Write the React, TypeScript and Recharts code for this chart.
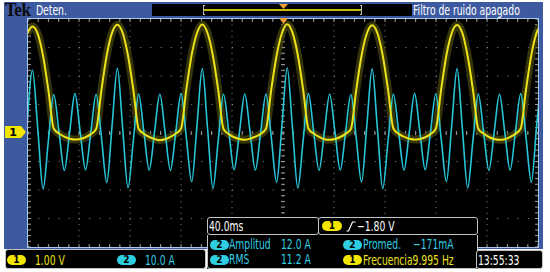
import React from 'react';
import { LineChart, Line, XAxis, YAxis, CartesianGrid } from 'recharts';

// ---- acquisition (sample grid of the record) ----
const SAMPLE_START_MS = -0.66;
const SAMPLE_STEP_MS = 4.1625;

// Channel 1 (V)
const ch1Volts = [
  3.45,
  3.70, 3.44, 2.66, 1.46, 0.12, -0.06, -0.17, -0.24, -0.27, -0.25, -0.19, -0.08, 0.10, 1.47, 2.69, 3.48,
  3.76, 3.47, 2.68, 1.49, 0.11, -0.07, -0.18, -0.25, -0.29, -0.26, -0.18, -0.06, 0.12, 1.50, 2.70, 3.47,
  3.77, 3.46, 2.67, 1.47, 0.10, -0.08, -0.19, -0.25, -0.28, -0.24, -0.17, -0.07, 0.11, 1.49, 2.68, 3.46,
  3.78, 3.48, 2.69, 1.48, 0.11, -0.06, -0.18, -0.26, -0.28, -0.25, -0.18, -0.07, 0.10, 1.46, 2.67, 3.45,
  3.74, 3.46, 2.68, 1.48, 0.12, -0.07, -0.17, -0.24, -0.27, -0.25, -0.19, -0.08, 0.11, 1.48, 2.69, 3.47,
  3.75, 3.47, 2.66, 1.47, 0.11, -0.06, -0.18, -0.25, -0.28, -0.26, -0.18, -0.07, 0.12, 1.49, 2.70, 3.48,
  3.76,
];

// Channel 2 (A)
const ch2Amps = [
  2.6,
  22.0, 1.5, -19.6, -2.7, 13.5, 0.4, -13.1, 0.2, 13.8, 0.3, -12.9, 0.3, 13.6, -1.6, -17.4, 2.6,
  22.7, 1.6, -19.2, -2.8, 13.7, 0.3, -13.0, 0.4, 13.6, 0.2, -13.1, 0.3, 13.8, -1.7, -17.1, 2.7,
  22.6, 1.4, -19.4, -2.6, 13.6, 0.3, -12.9, 0.3, 13.7, 0.4, -13.0, 0.2, 13.7, -1.5, -17.3, 2.5,
  22.8, 1.6, -19.3, -2.7, 13.8, 0.2, -13.1, 0.3, 13.6, 0.3, -13.0, 0.4, 13.5, -1.6, -17.2, 2.6,
  22.5, 1.5, -19.5, -2.8, 13.6, 0.3, -13.0, 0.2, 13.8, 0.3, -12.9, 0.3, 13.7, -1.8, -17.0, 2.7,
  22.6, 1.6, -19.2, -2.6, 13.7, 0.4, -13.1, 0.3, 13.6, 0.2, -13.0, 0.3, 13.8, -1.6, -17.3, 2.6,
  22.4,
];

// graticule
const timeTicksMajor = [0, 40, 80, 120, 160, 200, 240, 280, 320, 360, 400];
const divTicksMajor = [-4, -3, -2, -1, 0, 1, 2, 3, 4];
const timeTicksMinor = Array.from({ length: 51 }, (_, i) => i * 8);
const divTicksMinor = Array.from({ length: 41 }, (_, i) => Math.round((-4 + i * 0.2) * 10) / 10);

const data = ch1Volts.map((v, i) => ({
  t: SAMPLE_START_MS + i * SAMPLE_STEP_MS,
  ch1: v,
  ch2: ch2Amps[i],
}));

const NARROW = "'Liberation Sans Narrow', 'DejaVu Sans Condensed', 'Roboto', sans-serif";
const BLUE = '#3d5aa0';
const YEL = '#ece31a';
const CYAN = '#27c6d8';
const YEL_TXT = '#f0e21c';
const CYAN_TXT = '#30cde0';

const Abs = ({ x, y, w, h, style, children }: any) => (
  <div style={{ position: 'absolute', left: x, top: y, width: w, height: h, boxSizing: 'border-box', ...style }}>
    {children}
  </div>
);

const T = ({ x, cy, color, size = 13.5, sx = 0.76, children, style }: any) => (
  <div
    style={{
      position: 'absolute', left: x, top: cy - 8, height: 16, lineHeight: '16px', fontSize: size,
      color, fontFamily: NARROW, whiteSpace: 'nowrap', transform: `scaleX(${sx})`, transformOrigin: 'left center',
      ...style,
    }}
  >
    {children}
  </div>
);

const Pill = ({ x, cy, w = 19, h = 10, bg, label }: any) => (
  <div
    style={{
      position: 'absolute', left: x, top: cy - h / 2, width: w, height: h, borderRadius: h / 2,
      background: bg, color: '#000', fontSize: 10, lineHeight: h + 'px', textAlign: 'center',
      fontFamily: NARROW, fontWeight: 'bold',
    }}
  >
    {label}
  </div>
);

const boxBorder = '1px solid #c4c4c4';

export default function App() {
  return (
    <div style={{ position: 'absolute', left: 0, top: 0, width: 550, height: 272, background: '#fff', overflow: 'hidden' }}>
      {/* blue frame */}
      <Abs x={4} y={2} w={539} h={247} style={{ background: BLUE }} />
      {/* plot background */}
      <Abs x={28} y={19} w={510} h={228} style={{ background: '#000' }} />

      <LineChart
        width={550}
        height={272}
        data={data}
        margin={{ top: 19, left: 28, right: 12, bottom: 25 }}
        style={{ position: 'absolute', left: 0, top: 0 }}
      >
        <XAxis xAxisId="t" dataKey="t" type="number" domain={[0, 400]} ticks={timeTicksMajor} interval={0} allowDataOverflow hide />
        <XAxis xAxisId="tm" dataKey="t" type="number" domain={[0, 400]} ticks={timeTicksMinor} interval={0} allowDataOverflow hide />
        <YAxis yAxisId="div" type="number" domain={[-4, 4]} ticks={divTicksMajor} interval={0} allowDataOverflow hide />
        <YAxis yAxisId="divm" type="number" domain={[-4, 4]} ticks={divTicksMinor} interval={0} allowDataOverflow hide />
        <YAxis yAxisId="v" type="number" domain={[-4.04, 3.96]} allowDataOverflow hide />
        <YAxis yAxisId="a" type="number" domain={[-40, 40]} allowDataOverflow hide />

        <CartesianGrid xAxisId="t" yAxisId="div" horizontal vertical={false} stroke="#8c8c8c" strokeDasharray="1 9.2" />
        <CartesianGrid xAxisId="t" yAxisId="div" horizontal={false} vertical stroke="#8c8c8c" strokeDasharray="1 4.7" />
        <CartesianGrid xAxisId="tm" yAxisId="divm" horizontal={false} vertical stroke="#9c9c9c" strokeDasharray="3 109 4 109 3" />
        <CartesianGrid xAxisId="tm" yAxisId="divm" horizontal vertical={false} stroke="#9c9c9c" strokeDasharray="3 250 4 250 3" />

        <Line xAxisId="t" yAxisId="v" dataKey="ch1" type="monotone" stroke="#3f3d0b" strokeOpacity={0.85} strokeWidth={8} dot={false} isAnimationActive={false} />
        <Line xAxisId="t" yAxisId="a" dataKey="ch2" type="monotone" stroke={CYAN} strokeWidth={1.6} dot={false} isAnimationActive={false} />
        <Line xAxisId="t" yAxisId="v" dataKey="ch1" type="monotone" stroke={YEL} strokeWidth={2} dot={false} isAnimationActive={false} />
      </LineChart>

      {/* plot border */}
      <Abs x={27} y={18} w={512} h={230} style={{ border: '1px solid #a8c8ee' }} />

      {/* trigger position marker */}
      <svg style={{ position: 'absolute', left: 279, top: 18 }} width={9} height={6}>
        <polygon points="0,0 9,0 4.5,6" fill="#f0a030" />
      </svg>

      {/* top bar */}
      <T x={5} cy={9.5} color="#0b0b0b" size={18} sx={0.95} style={{ fontFamily: "'Liberation Serif', 'DejaVu Serif', serif", fontWeight: 'bold', letterSpacing: -0.5 }}>Tek</T>
      <T x={36} cy={10} color="#fff">Deten.</T>
      <Abs x={152} y={4} w={260} h={12} style={{ background: '#000' }} />
      <Abs x={204} y={9} w={157} h={2} style={{ background: '#c9bb10' }} />
      <Abs x={203} y={5} w={2} h={10} style={{ borderLeft: '1px solid #bbb', borderTop: '1px solid #bbb', borderBottom: '1px solid #bbb' }} />
      <Abs x={360} y={5} w={2} h={10} style={{ borderRight: '1px solid #bbb', borderTop: '1px solid #bbb', borderBottom: '1px solid #bbb' }} />
      <svg style={{ position: 'absolute', left: 279, top: 4 }} width={9} height={5}>
        <polygon points="0,0 9,0 4.5,5" fill="#f0a030" />
      </svg>
      <T x={413} cy={10} color="#fff">Filtro de ruido apagado</T>

      {/* channel 1 ground marker */}
      <svg style={{ position: 'absolute', left: 5, top: 126 }} width={22} height={12}>
        <polygon points="0,0 16,0 21,6 16,12 0,12" fill="#f2e600" />
        <text x={8} y={10} fontSize={11} fontFamily="DejaVu Sans, sans-serif" fontWeight="bold" textAnchor="middle" fill="#000">1</text>
      </svg>

      {/* bottom-left scale box */}
      <Abs x={5} y={249} w={201} h={20} style={{ background: '#000', border: boxBorder, borderRadius: 3 }} />
      <Pill x={7} cy={260} bg="#f2e600" label="1" />
      <T x={35} cy={259.5} color={YEL_TXT}>1.00 V</T>
      <Pill x={117} cy={260} bg="#2fcde0" label="2" />
      <T x={145} cy={259.5} color={CYAN_TXT}>10.0 A</T>

      {/* measurement panel */}
      <Abs x={207} y={217} w={271} h={52} style={{ background: '#000' }} />
      <Abs x={207} y={217} w={112} h={18} style={{ border: boxBorder, borderRadius: 3 }} />
      <Abs x={318} y={217} w={160} h={18} style={{ border: boxBorder, borderRadius: 3 }} />
      <Abs x={207} y={235} w={271} h={34} style={{ border: boxBorder, borderTop: 'none', borderRadius: '0 0 3px 3px' }} />
      <T x={209} cy={226} color="#fff">40.0ms</T>
      <Pill x={322} cy={226} w={20} bg="#f2e600" label="1" />
      <svg style={{ position: 'absolute', left: 346, top: 221 }} width={10} height={11}>
        <path d="M0.5 10 L2.5 10 L6.5 1 L9.5 1" stroke="#fff" strokeWidth={1.2} fill="none" />
      </svg>
      <T x={357} cy={226} color="#fff">−1.80 V</T>

      <Pill x={210} cy={244.5} bg="#2fcde0" label="2" />
      <T x={229} cy={244} color={CYAN_TXT}>Amplitud</T>
      <T x={281} cy={244} color={CYAN_TXT}>12.0 A</T>
      <Pill x={210} cy={259.5} bg="#2fcde0" label="2" />
      <T x={229} cy={259} color={CYAN_TXT}>RMS</T>
      <T x={281} cy={259} color={CYAN_TXT}>11.2 A</T>

      <Pill x={343} cy={244.5} bg="#2fcde0" label="2" />
      <T x={363} cy={244} color={CYAN_TXT}>Promed.</T>
      <T x={413} cy={244} color={CYAN_TXT}>−171mA</T>
      <Pill x={343} cy={260} bg="#f2e600" label="1" />
      <T x={363} cy={259.5} color={YEL_TXT}>Frecuencia9.995 Hz</T>

      {/* timestamp */}
      <Abs x={476} y={250} w={67} h={19} style={{ background: '#000', border: boxBorder, borderRadius: 3 }} />
      <T x={478} cy={260} color="#fff">13:55:33</T>
    </div>
  );
}
